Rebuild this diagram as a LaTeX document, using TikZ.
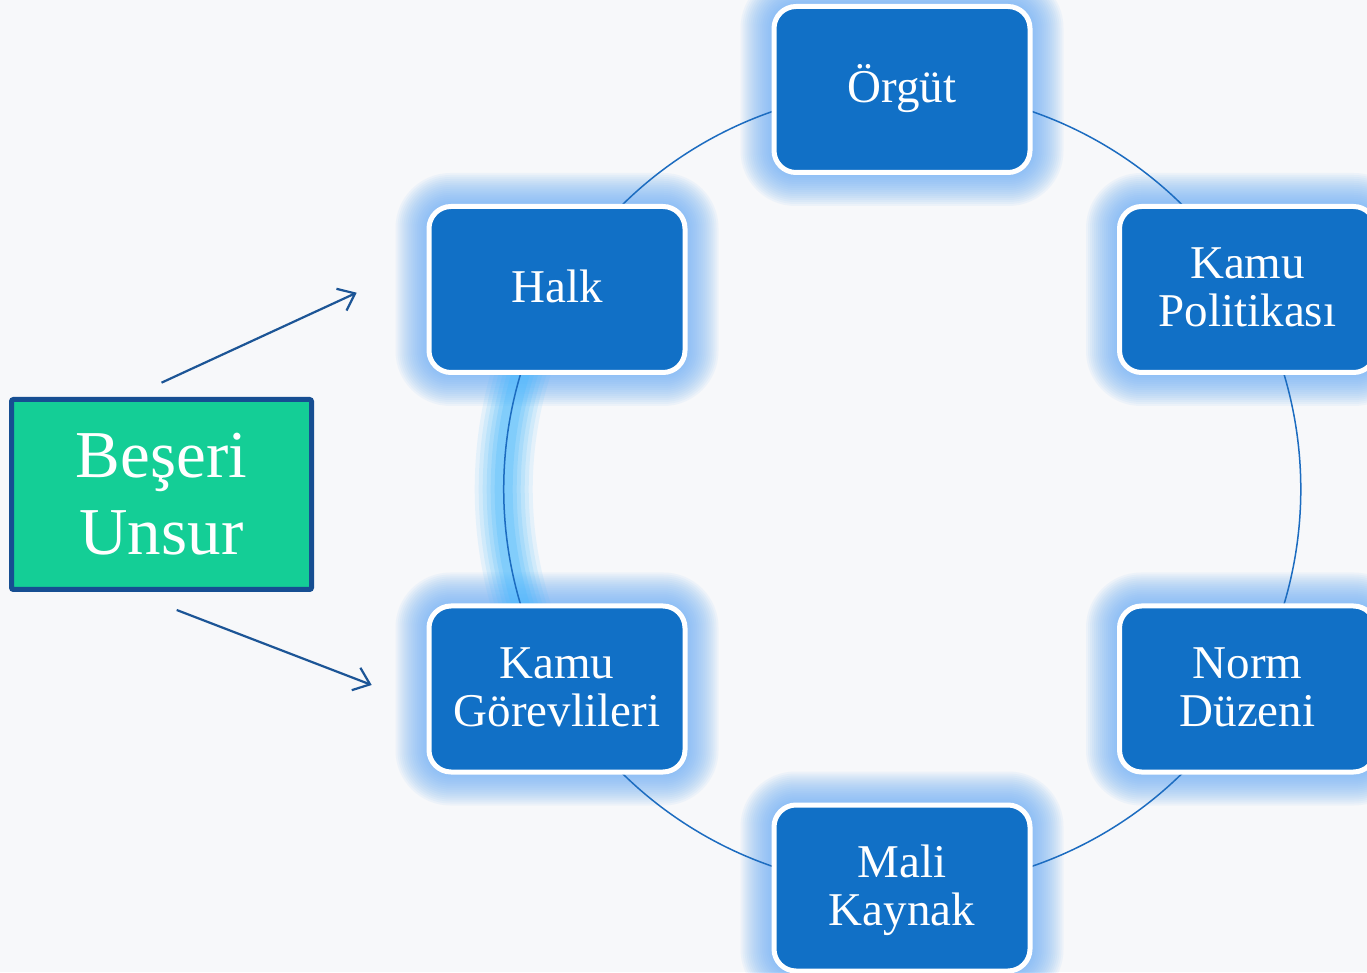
\documentclass[tikz,border=0pt]{standalone}
\usepackage{fontspec}
\setmainfont{Liberation Serif}
\usetikzlibrary{arrows.meta,calc}
\pgfdeclarelayer{bg}\pgfdeclarelayer{halo}\pgfdeclarelayer{mid}
\pgfsetlayers{bg,halo,mid,main}
\definecolor{bgc}{RGB}{247,248,250}
\definecolor{boxc}{RGB}{17,112,198}
\definecolor{haloc}{RGB}{110,175,245}
\definecolor{glowc}{RGB}{70,185,255}
\definecolor{linec}{RGB}{28,108,192}
\definecolor{greenc}{RGB}{20,206,150}
\definecolor{greenb}{RGB}{22,78,146}
\definecolor{arrc}{RGB}{28,85,150}
\tikzset{
  blbox/.style={rectangle, rounded corners=22pt, fill=boxc, draw=white, line width=5pt,
    minimum width=256pt, minimum height=166pt, text=white, align=center,
    font=\fontsize{47}{48}\selectfont, inner sep=0pt},
  oneline/.style={text height=30pt, text depth=3pt},
  twoline/.style={text height=78pt, text depth=3pt},
  greenbox/.style={rectangle, rounded corners=2pt, fill=greenc, draw=greenb, line width=5pt,
    minimum width=300pt, minimum height=190pt, text=white, align=center,
    font=\fontsize{67}{77}\selectfont, inner sep=0pt, text height=124pt, text depth=3pt},
  ring/.style={draw=linec, line width=1.5pt, bend right=30, looseness=0.912},
  pointer/.style={draw=arrc, line width=2.2pt, -{Straight Barb[length=15pt,width=24pt]}},
}
\begin{document}
\begin{tikzpicture}[x=1pt,y=1pt]
\useasboundingbox (0,0) rectangle (1367,972);
\clip (0,0) rectangle (1367,972);
\begin{pgfonlayer}{bg}
  \fill[bgc] (0,0) rectangle (1367,972);
\end{pgfonlayer}

\node[blbox, oneline] (org)  at (902,882.5)   {Örgüt};
\node[blbox, oneline] (halk) at (557,682.5)   {Halk};
\node[blbox, twoline] (kp)   at (1247.5,682.5) {Kamu\\Politikası};
\node[blbox, twoline] (nz)   at (1247.5,283)  {Norm\\Düzeni};
\node[blbox, twoline] (kg)   at (557,283)     {Kamu\\Görevlileri};
\node[blbox, twoline] (mk)   at (902,84)      {Mali\\Kaynak};
\node[greenbox] (bes) at (161.5,477.5) {Beşeri\\Unsur};

\coordinate (a1s) at (161.5,589.3);
\coordinate (a1e) at (356.7,679.3);
\coordinate (a2s) at (176.7,362);
\coordinate (a2e) at (371.7,287);
\draw[pointer] (a1s) -- (a1e);
\draw[pointer] (a2s) -- (a2e);

\begin{pgfonlayer}{halo}
  \foreach \n in {org,halk,kp,nz,kg,mk}{
    \foreach \e [evaluate=\e as \r using 24+\e] in {1,3,...,31}{
      \fill[haloc, opacity=0.075, rounded corners=\r pt]
        ($(\n.south west)+(-\e,-\e)$) rectangle ($(\n.north east)+(\e,\e)$);
    }
  }
\end{pgfonlayer}

\begin{pgfonlayer}{mid}
  \foreach \w/\o in {58/0.1,50/0.12,42/0.14,34/0.17,26/0.2,18/0.24}{
    \draw[ring, draw=glowc, line width=\w pt, opacity=\o] (halk.center) to (kg.center);
  }
  \draw[ring] (org.center) to (halk.center) to (kg.center) to (mk.center)
    to (nz.center) to (kp.center) to (org.center);
\end{pgfonlayer}
\end{tikzpicture}
\end{document}
